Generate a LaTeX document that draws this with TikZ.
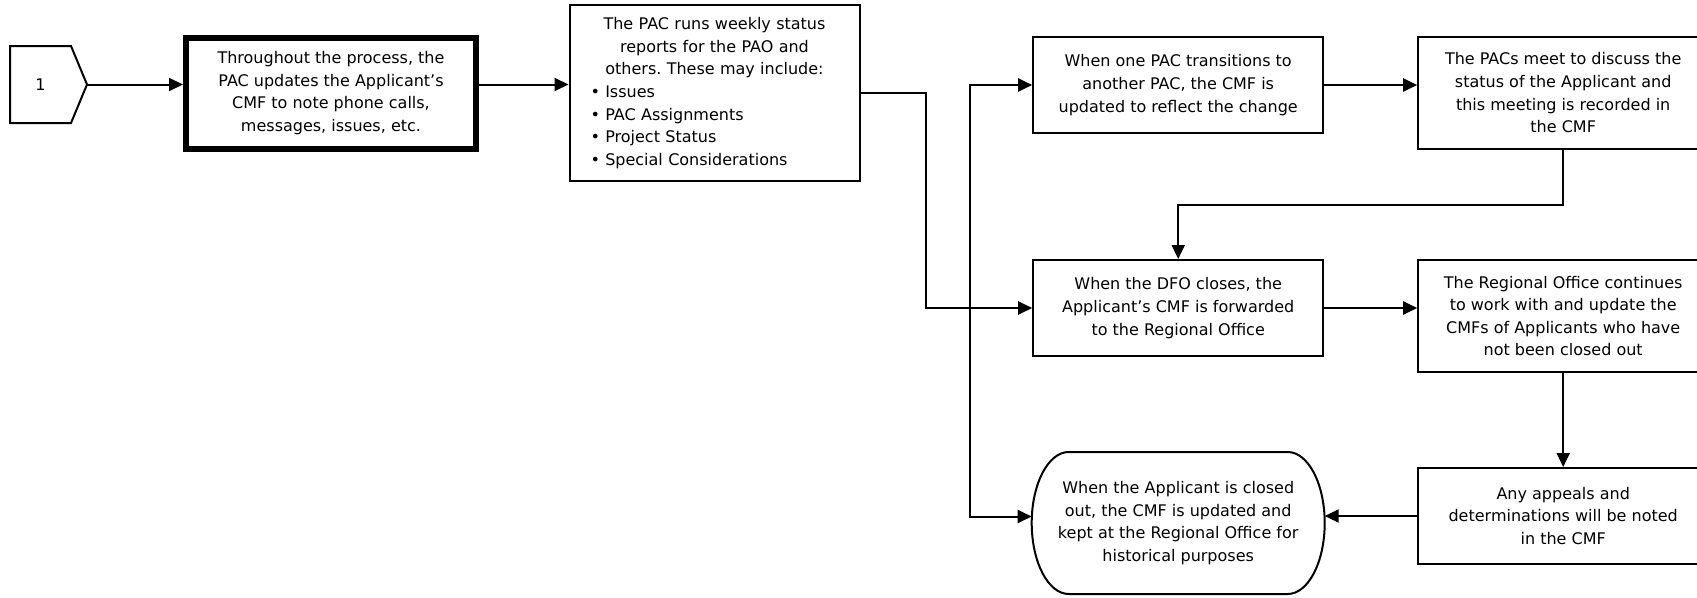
\documentclass[tikz,border=0pt]{standalone}
\usepackage{fontspec}
\setmainfont{DejaVu Sans}
\usepackage{tikz}
\usetikzlibrary{positioning, arrows.meta}
\frenchspacing
\tikzset{Vertex/.style={%
    shape=rectangle,%
    draw=black,%
    fill=white,%
    line width=2pt,%
    minimum width=290pt,%
    minimum height=96pt,%
    inner sep=4pt,%
    align=center,%
    font=\fontsize{16}{22.6}\selectfont,%
}}
\tikzset{StartVertex/.style={%
    Vertex,%
    line width=6pt,%
    minimum height=111pt,%
}}
\tikzset{ListVertex/.style={%
    Vertex,%
    text width=248pt,%
    inner xsep=20pt,%
    align=left,%
    minimum height=176pt,%
}}
\tikzset{EndVertex/.style={%
    Vertex,%
    draw=none,%
    fill=none,%
    outer sep=0pt,%
    minimum width=293pt,%
    minimum height=142pt,%
}}
\tikzset{PageVertex/.style={%
    Vertex,%
    draw=none,%
    fill=none,%
    outer sep=0pt,%
    minimum width=61pt,%
    minimum height=77pt,%
}}
\tikzset{NormalEdge/.style={%
    ->,%
    line width=2pt,%
}}
\tikzset{BothEdge/.style={%
    <->,%
    line width=2pt,%
}}

\begin{document}
\begin{tikzpicture}[x=1pt, y=-1pt, >={Triangle[length=14pt,width=13pt]}]
    \useasboundingbox (0,0) rectangle (1697,597);
    \clip (0,0) rectangle (1697,597);
    \fill[white] (0,0) rectangle (1697,597);

    \node[PageVertex] (s0) at (40.5,84.5) {1};
    \coordinate (s0tip) at ([xshift=16pt]s0.east);
    \draw[line width=2pt] (s0.north west) -- (s0.north east) -- (s0tip)
        -- (s0.south east) -- (s0.south west) -- cycle;

    \node[StartVertex] (s1) at (331,93) {Throughout the process, the\\PAC updates the Applicant’s\\CMF to note phone calls,\\messages, issues, etc.};
    \node[ListVertex] (s2) at (714.5,93) {{\centering The PAC runs weekly status\\reports for the PAO and\\others. These may include:\par}%
        • Issues\\• PAC Assignments\\• Project Status\\• Special Considerations};
    \node[Vertex] (s3) at (1178.2,85) {When one PAC transitions to\\another PAC, the CMF is\\updated to reflect the change};
    \node[Vertex, minimum height=111.5pt, right=93pt of s3.north east, anchor=north west] (s4) {The PACs meet to discuss the\\status of the Applicant and\\this meeting is recorded in\\the CMF};
    \node[Vertex, below=125pt of s3] (s5) {When the DFO closes, the\\Applicant’s CMF is forwarded\\to the Regional Office};
    \node[Vertex, minimum height=112pt, right=93pt of s5.north east, anchor=north west] (s6) {The Regional Office continues\\to work with and update the\\CMFs of Applicants who have\\not been closed out};
    \node[Vertex, below=94pt of s6] (s7) {Any appeals and\\determinations will be noted\\in the CMF};
    \node[EndVertex, below=95pt of s5] (s8) {When the Applicant is closed\\out, the CMF is updated and\\kept at the Regional Office for\\historical purposes};
    \draw[line width=2pt, line join=round] ([xshift=37pt]s8.north west) -- ([xshift=-37pt]s8.north east)
        arc[start angle=90, end angle=-90, x radius=37pt, y radius=71pt]
        -- ([xshift=37pt]s8.south west)
        arc[start angle=270, end angle=90, x radius=37pt, y radius=71pt] -- cycle;

    \coordinate (j1) at (926,200);
    \coordinate (j2) at (970,516.5);

    \path (s0tip) edge[NormalEdge] (s0tip -| s1.west);
    \path (s0tip -| s1.east) edge[NormalEdge] (s0tip -| s2.west);
    \draw[NormalEdge] (s2.east) -| (j1) |- (s5.west);
    \draw[BothEdge] (s3.west) -| (j2) -- (j2 -| s8.west);
    \path (s3.east) edge[NormalEdge] (s3.east -| s4.west);
    \draw[NormalEdge] (s4.south) -- ++(0,55) -| (s5.north);
    \path (s5.east) edge[NormalEdge] (s5.east -| s6.west);
    \path (s6.south) edge[NormalEdge] (s7.north);
    \path (s7.west) edge[NormalEdge] (s7.west -| s8.east);
\end{tikzpicture}
\end{document}
